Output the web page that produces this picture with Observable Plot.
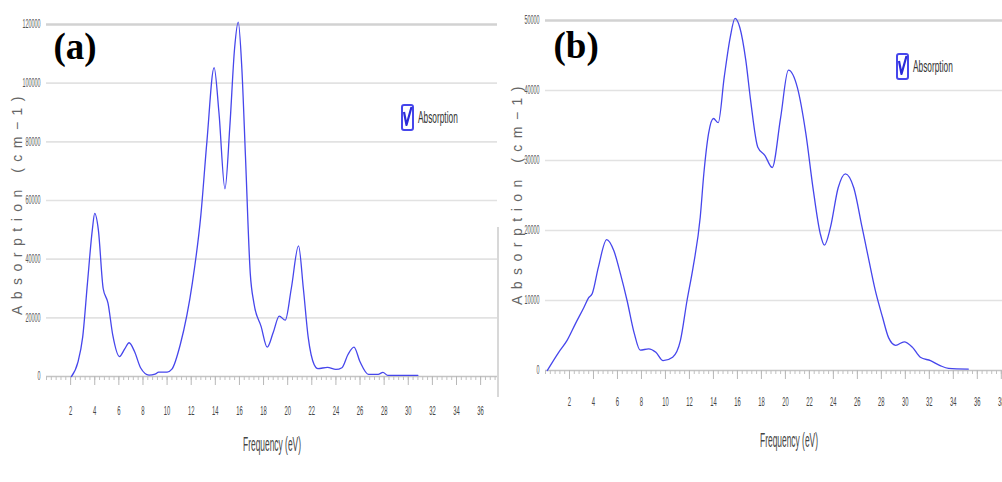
<!DOCTYPE html>
<html><head><meta charset="utf-8">
<script src="https://cdn.jsdelivr.net/npm/d3@7"></script>
<script src="https://cdn.jsdelivr.net/npm/@observablehq/plot@0.6"></script>
<style>
html,body{margin:0;padding:0;background:#fff;}
#wrap{position:relative;width:1002px;height:482px;overflow:hidden;font-family:"Liberation Sans",Arial,sans-serif;}
.panel{position:absolute;top:0;}
.legend{position:absolute;overflow:visible;}
.sep{position:absolute;left:497px;top:227px;width:2px;height:170px;background:#d8d8d8;}
</style></head><body><div id="wrap"></div>
<script>
// ---- data ----
const freqA = [2.07,2.6,3.0,3.4,3.8,4.0,4.3,4.7,5.1,5.5,6.05,6.5,6.85,7.3,7.8,8.5,9.0,9.3,10.0,10.4,11.1,12.1,12.8,13.3,13.9,14.3,14.8,15.2,15.6,15.9,16.2,16.5,16.9,17.2,17.8,18.3,18.8,19.3,19.8,20.3,20.9,21.3,21.7,22.2,22.5,23.3,24.0,24.5,25.0,25.5,26.0,26.7,27.5,27.9,28.3,30.8];
const absA  = [0,4800,13400,32000,50000,55600,50000,30000,25000,14000,6800,9500,11500,8500,3000,500,800,1500,1500,2500,11000,32000,55000,80000,105300,90000,64000,85000,112000,120800,105000,75000,35000,25000,17000,10000,15000,20600,19200,30000,44500,30000,13400,4000,2700,3100,2400,3000,7500,10000,5000,700,700,1400,400,400];

const freqB = [0.15,1.1,1.8,2.5,3.2,3.6,3.9,4.4,5.1,5.7,6.25,6.8,7.4,7.9,8.6,9.2,9.8,10.6,11.25,11.8,12.3,12.9,13.2,13.6,14.0,14.4,14.9,15.4,15.8,16.2,16.7,17.1,17.7,18.3,18.9,19.6,20.25,21.0,21.7,22.3,22.9,23.25,23.75,24.4,25.0,25.7,26.4,26.8,27.5,28.1,28.6,29.2,29.9,30.6,31.25,32.1,32.9,33.6,35.25];
const absB  = [0,2600,4300,6700,9000,10400,11000,14700,18700,17100,13800,10000,5300,2900,3100,2600,1400,1900,4300,10000,14700,21900,28100,33900,36000,35400,41900,47600,50300,49000,44300,38600,31900,30700,29000,36100,42900,40400,33900,26100,19600,17900,20400,26100,28100,26100,20400,17100,11400,7600,4700,3600,4100,3300,1900,1400,700,300,200];

const xTicksA = [2,4,6,8,10,12,14,16,18,20,22,24,26,28,30,32,34,36];
const xTicksB = [2,4,6,8,10,12,14,16,18,20,22,24,26,28,30,32,34,36,38];
const yTicksA = [0,20000,40000,60000,80000,100000,120000];
const yTicksB = [0,10000,20000,30000,40000,50000];
const panelLetters = ["(a)", "(b)"];
const xTitle = "Frequency (eV)";
const yTitle = "Absorption (cm\u22121)";
const seriesName = "Absorption";

const LINE = "#4646ec";

function makePanel(o) {
  const pts = o.freq.map((x, i) => ({x, y: o.abs[i]}));
  const minor = d3.range(0, o.xMax, 0.4);
  return Plot.plot({
    width: o.width, height: 482,
    marginLeft: o.ml, marginRight: o.mr, marginTop: o.mt, marginBottom: 482 - o.base,
    x: {domain: [0, o.xMax]},
    y: {domain: [0, o.yMax]},
    style: {fontFamily: "Liberation Sans, Arial, sans-serif", background: "transparent", overflow: "visible"},
    marks: [
      Plot.gridY(o.yTicks.slice(1, -1), {stroke: "#e2e2e2", strokeOpacity: 1, strokeWidth: 1.6}),
      Plot.ruleY([o.yMax], {stroke: "#d2d2d2", strokeWidth: 2.5}),
      Plot.ruleY([0], {stroke: "#c4c4c4", strokeWidth: 1.6}),
      Plot.axisX(minor, {tickSize: 4, tickFormat: () => "", label: null, stroke: "#c0c0c0"}),
      Plot.axisX(o.xTicks, {tickSize: 9, tickPadding: o.xpad, fontSize: 13, fill: "#444", stroke: "#b8b8b8", label: null, tickFormat: d => String(d)}),
      Plot.axisY(o.yTicks, {tickSize: 0, tickPadding: 6, fontSize: 12, fill: "#555", label: null, tickFormat: d => String(d)}),
      Plot.line(pts, {x: "x", y: "y", curve: "monotone-x", stroke: LINE, strokeWidth: 1.3}),
      Plot.text([yTitle], {frameAnchor: "left", textAnchor: "middle", lineAnchor: "middle", rotate: -90, dx: o.ydx, dy: o.ydy, fontSize: 14, fill: "#666"}),
      Plot.text([xTitle], {frameAnchor: "bottom", dy: o.xdy, dx: o.xdx, fontSize: 20, fill: "#444"}),
      Plot.text([o.letter], {frameAnchor: "top-left", textAnchor: "start", dx: o.ldx, dy: o.ldy, fontSize: 37, fontWeight: "bold", fontFamily: "Liberation Serif, Times New Roman, serif", fill: "#000"})
    ]
  });
}

const wrap = document.getElementById("wrap");
const A = makePanel({freq: freqA, abs: absA, width: 500, ml: 46, mr: 3, mt: 24, base: 376, xMax: 37.4, yMax: 120000, yTicks: yTicksA, xTicks: xTicksA, letter: panelLetters[0], ydx: -29, ydy: 2, xdy: 74, xdx: 0, xpad: 20, ldx: 7, ldy: 8});
const B = makePanel({freq: freqB, abs: absB, width: 502, ml: 45, mr: 0, mt: 20, base: 370, xMax: 38.1, yMax: 50000, yTicks: yTicksB, xTicks: xTicksB, letter: panelLetters[1], ydx: -28, ydy: -3, xdy: 76, xdx: 15, xpad: 17, ldx: 8, ldy: 11});
A.classList.add("panel"); A.style.left = "0px";
B.classList.add("panel"); B.style.left = "500px";
wrap.appendChild(A); wrap.appendChild(B);
const sep = document.createElement("div"); sep.className = "sep"; wrap.appendChild(sep);

function squish(svg) {
  svg.querySelectorAll("text").forEach(t => {
    const s = t.textContent;
    if (panelLetters.includes(s)) return;
    if (s === yTitle) {
      const L = t.getComputedTextLength();
      const sp = (225 - L) / s.length;
      t.style.letterSpacing = sp.toFixed(2) + "px";
      return;
    }
    const k = s === xTitle ? 0.42 : 0.45;
    const L = t.getComputedTextLength();
    t.setAttribute("textLength", (L * k).toFixed(1));
    t.setAttribute("lengthAdjust", "spacingAndGlyphs");
  });
}
squish(A); squish(B);

function legend(left, top) {
  const ns = "http://www.w3.org/2000/svg";
  const s = document.createElementNS(ns, "svg");
  s.setAttribute("class", "legend");
  s.setAttribute("width", 70); s.setAttribute("height", 30);
  s.style.left = left + "px"; s.style.top = top + "px";
  s.innerHTML = `<rect x="1" y="1" width="11" height="25" rx="2" fill="#fff" stroke="${LINE}" stroke-width="2"/>
  <path d="M3 8 L5.5 21 L10.5 3" fill="none" stroke="#2b2bd8" stroke-width="2.2" stroke-linejoin="round"/>
  <text x="17" y="18.5" font-size="17" fill="#333" font-family="Liberation Sans, Arial, sans-serif">${seriesName}</text>`;
  wrap.appendChild(s);
  const t = s.querySelector("text");
  const L = t.getComputedTextLength();
  t.setAttribute("textLength", (L * 0.49).toFixed(1));
  t.setAttribute("lengthAdjust", "spacingAndGlyphs");
}
legend(401, 104);
legend(896, 53);
</script>
</body></html>
